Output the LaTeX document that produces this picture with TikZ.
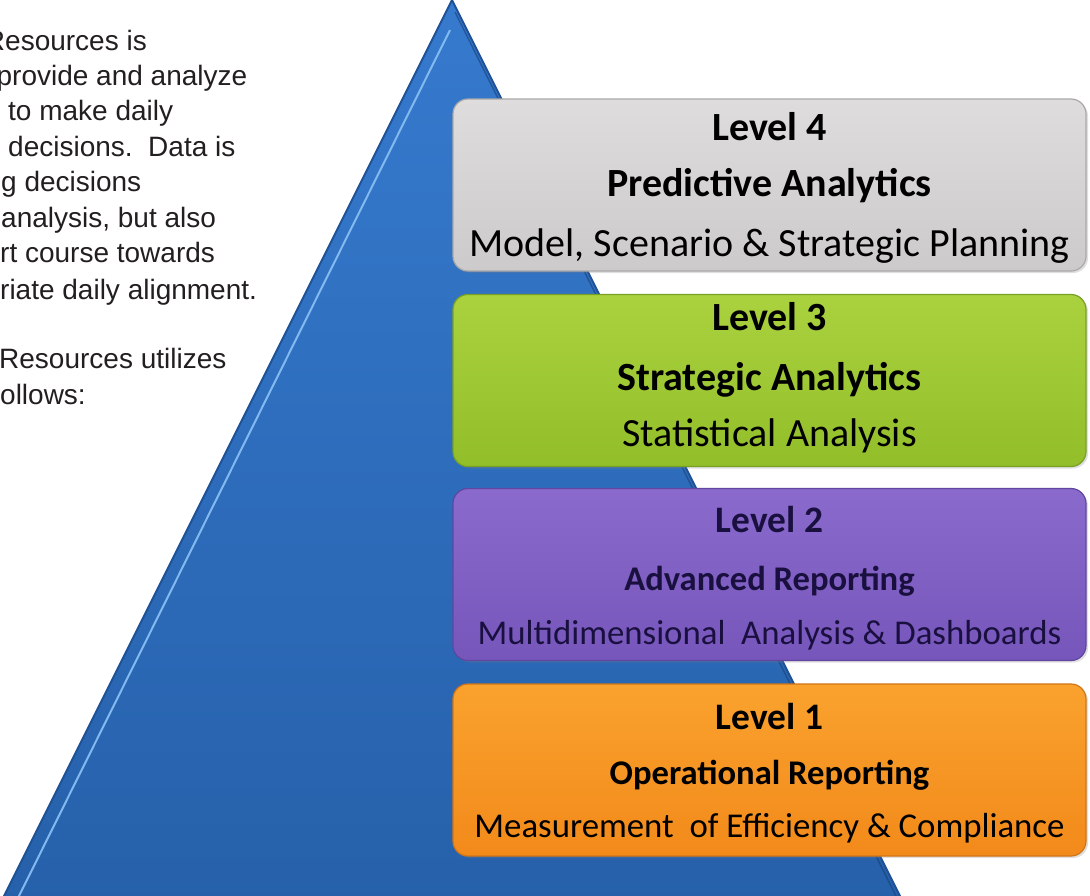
\documentclass[tikz,border=0pt]{standalone}
\usepackage{fontspec}
\setmainfont{Carlito}
\newfontfamily\arialf{Liberation Sans}
\usetikzlibrary{shadows}
\definecolor{tritop}{RGB}{54,122,206}
\definecolor{tribot}{RGB}{38,96,170}
\definecolor{triedge}{RGB}{30,80,150}
\definecolor{trilight}{RGB}{130,185,240}
\definecolor{greyA}{RGB}{222,220,220}
\definecolor{greyB}{RGB}{204,202,202}
\definecolor{greyE}{RGB}{170,168,168}
\definecolor{greenA}{RGB}{170,210,62}
\definecolor{greenB}{RGB}{146,190,42}
\definecolor{greenE}{RGB}{120,160,36}
\definecolor{purpA}{RGB}{138,106,204}
\definecolor{purpB}{RGB}{118,86,186}
\definecolor{purpE}{RGB}{96,70,160}
\definecolor{orA}{RGB}{250,162,46}
\definecolor{orB}{RGB}{242,138,26}
\definecolor{orE}{RGB}{210,116,20}
\definecolor{bodytext}{RGB}{35,31,32}
\definecolor{navytext}{RGB}{26,16,64}
\tikzset{
  lvlbox/.style={rounded corners=15pt, line width=1.2pt, minimum width=633pt,
    minimum height=172pt, inner sep=0pt,
    drop shadow={opacity=0.25, shadow xshift=2pt, shadow yshift=-2pt}},
  lvltext/.style={anchor=base, inner sep=0pt, text=black},
  bodyline/.style={anchor=base west, inner sep=0pt, text=bodytext,
    font=\arialf\fontsize{28}{34}\selectfont},
  bigb/.style={font=\bfseries\fontsize{40}{46}\selectfont},
  bigr/.style={font=\fontsize{40}{46}\selectfont},
  lvb/.style={font=\bfseries\fontsize{37.4}{42}\selectfont},
  smb/.style={font=\bfseries\fontsize{34.6}{40}\selectfont},
  smr/.style={font=\fontsize{34.8}{40}\selectfont}
}
\begin{document}
\begin{tikzpicture}[x=1pt,y=-1pt]
\useasboundingbox (0,0) rectangle (1090,895);
\clip (0,0) rectangle (1090,895);
\fill[white] (0,0) rectangle (1090,895);

% left text
\node[bodyline] (t1) at (5,50) {\llap{R}esources is};
\node[bodyline] (t2) at (12,85.4) {\llap{p}rovide and analyze};
\node[bodyline] (t3) at (8,120.8) {to make daily};
\node[bodyline] (t4) at (8,156.2) {decisions.\ \ Data is};
\node[bodyline] (t5) at (1,191.6) {g decisions};
\node[bodyline] (t6) at (1,227) {analysis, but also};
\node[bodyline] (t7) at (0,262.4) {rt course towards};
\node[bodyline] (t8) at (0,299) {riate daily alignment.};
\node[bodyline] (t9) at (-1,368.6) {Resources utilizes};
\node[bodyline] (t10) at (0,404) {ollows:};

% pyramid
\coordinate (apex) at (452,0);
\coordinate (bl) at (-3,910);
\coordinate (br) at (907,910);
\fill[top color=tritop, bottom color=tribot] (apex) -- (br) -- (bl) -- cycle;
\draw[triedge, line width=2pt, line join=round] (bl) -- (apex) -- (br);
\coordinate (la) at (450,30);
\coordinate (lb) at (12,910);
\draw[trilight, line width=2pt] (la) -- (lb);
\coordinate (ra) at (455,12);
\coordinate (rb) at (903,910);
\draw[triedge!80!black, line width=1.5pt, opacity=0.6] (ra) -- (rb);

% level boxes
\node[lvlbox, draw=greyE, top color=greyA, bottom color=greyB] (l4) at (769.5,185) {};
\node[lvlbox, draw=greenE, top color=greenA, bottom color=greenB] (l3) at (769.5,380.5) {};
\node[lvlbox, draw=purpE, top color=purpA, bottom color=purpB] (l2) at (769.5,574.5) {};
\node[lvlbox, draw=orE, top color=orA, bottom color=orB] (l1) at (769.5,770) {};

% texts level 4
\node[lvltext, bigb] (l4a) at (769.5,140) {Level 4};
\node[lvltext, bigb] (l4b) at (769.5,196) {Predictive Analytics};
\node[lvltext, bigr] (l4c) at (769.5,256) {Model, Scenario \& Strategic Planning};
% level 3
\node[lvltext, bigb] (l3a) at (769.5,330) {Level 3};
\node[lvltext, bigb] (l3b) at (769.5,390) {Strategic Analytics};
\node[lvltext, bigr] (l3c) at (769.5,446) {Statistical Analysis};
% level 2
\node[lvltext, lvb, text=navytext] (l2a) at (769.5,532) {Level 2};
\node[lvltext, smb, text=navytext] (l2b) at (769.5,590) {Advanced Reporting};
\node[lvltext, smr, text=navytext] (l2c) at (769.5,644) {Multidimensional\ \ Analysis \& Dashboards};
% level 1
\node[lvltext, lvb] (l1a) at (769.5,729) {Level 1};
\node[lvltext, smb] (l1b) at (769.5,784) {Operational Reporting};
\node[lvltext, smr] (l1c) at (769.5,837) {Measurement\ \ of Efficiency \& Compliance};
\end{tikzpicture}
\end{document}
